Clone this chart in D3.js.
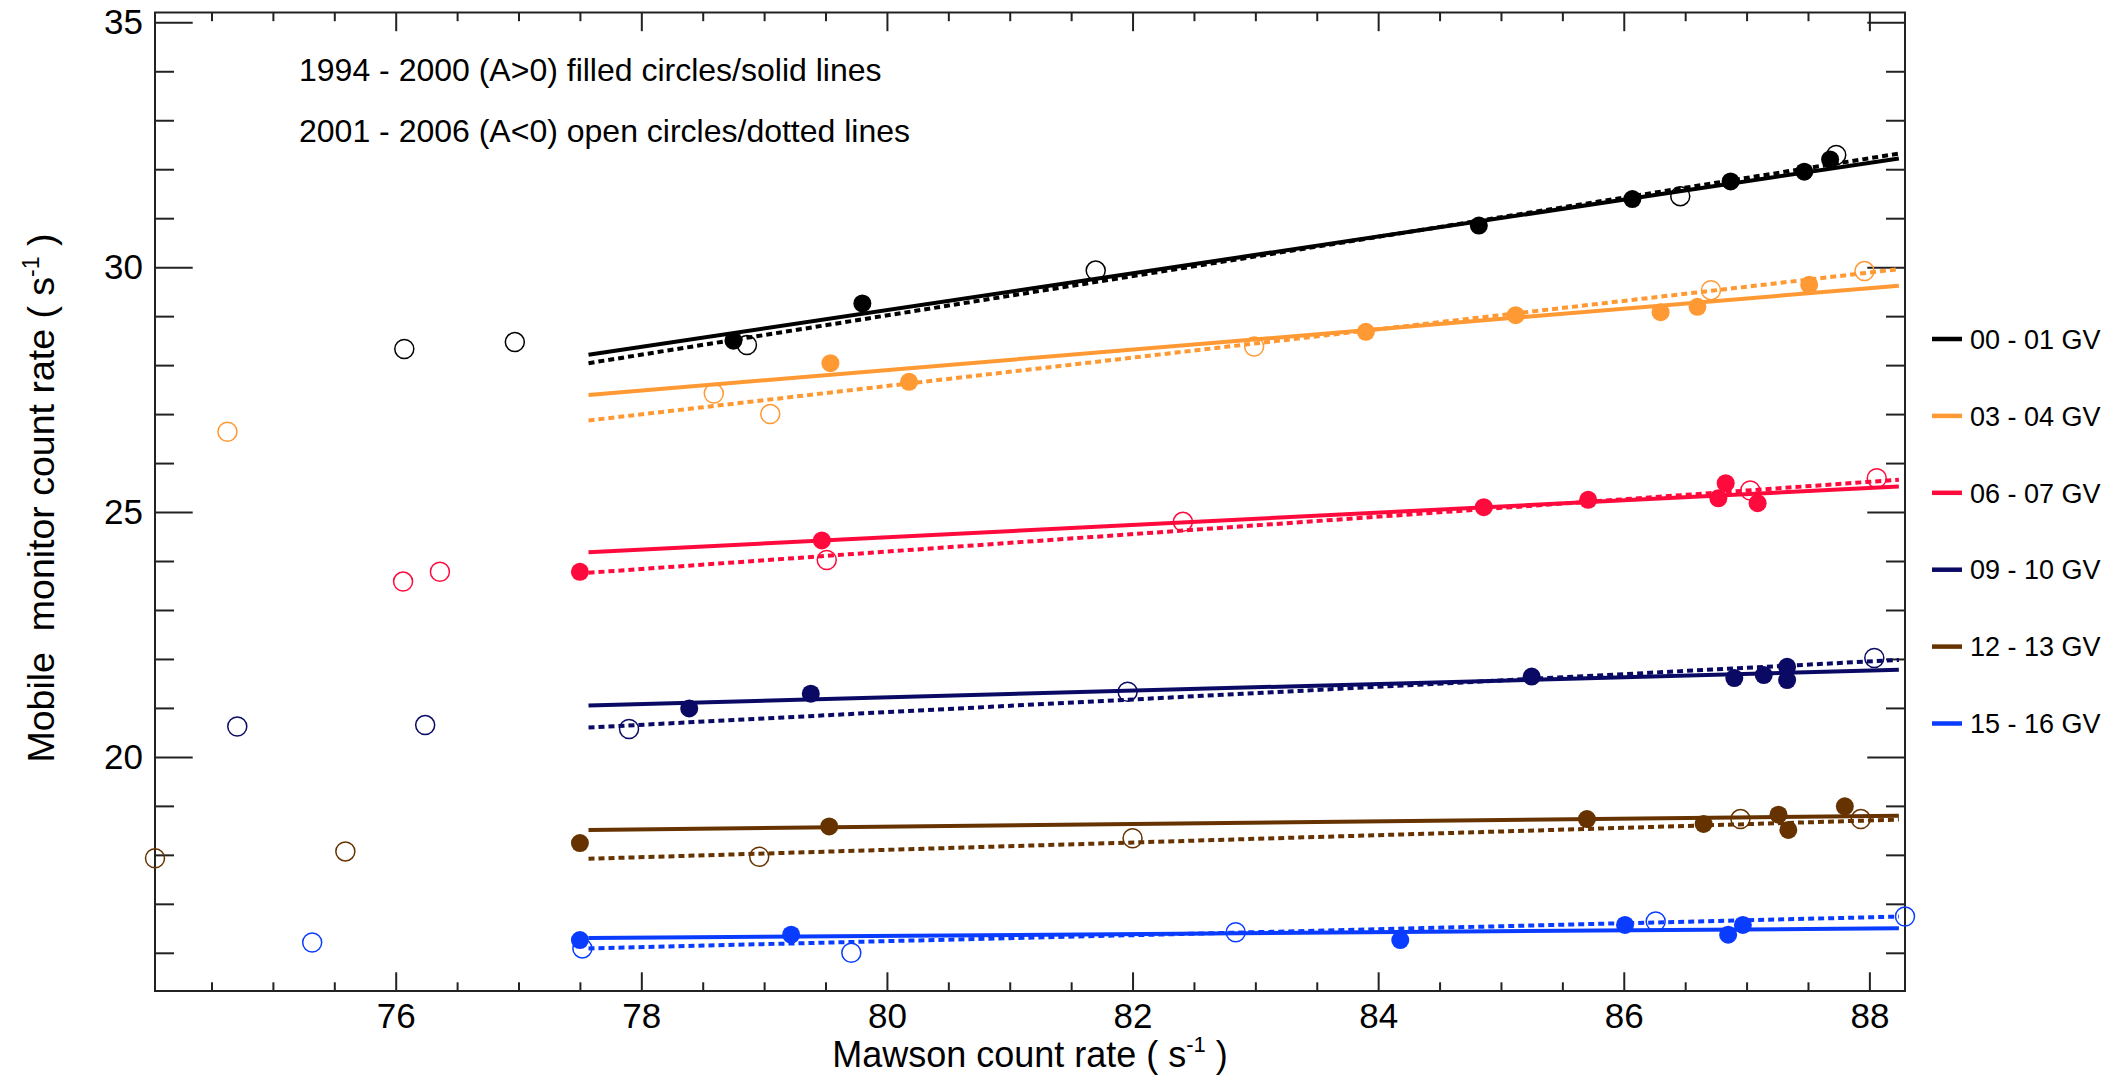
<!DOCTYPE html>
<html><head><meta charset="utf-8">
<script src="https://cdn.jsdelivr.net/npm/d3@7"></script>
<style>
html,body{margin:0;padding:0;background:#fff;}
svg{display:block;font-family:"Liberation Sans",Arial,Helvetica,sans-serif;}
</style></head><body>
<svg id="chart" width="2126" height="1081"></svg>
<script>
// ---------------- data ----------------
const seriesLabels = ["00 - 01 GV","03 - 04 GV","06 - 07 GV","09 - 10 GV","12 - 13 GV","15 - 16 GV"];
const seriesColors = ["#000000","#ff9933","#ff0a3c","#0a0a64","#663300","#0a3cff"];

// filled circles: 1994-2000 (A>0), [Mawson, Mobile]
const filled00 = [[78.75,28.50],[79.80,29.26],[84.82,30.85],[86.07,31.39],[86.87,31.75],[87.47,31.95],[87.68,32.20]];
const filled03 = [[79.54,28.04],[80.18,27.66],[83.90,28.68],[85.12,29.02],[86.30,29.08],[86.60,29.19],[87.51,29.64]];
const filled06 = [[77.50,23.78],[79.47,24.42],[84.86,25.10],[85.71,25.25],[86.77,25.28],[86.83,25.59],[87.09,25.18]];
const filled09 = [[78.39,20.99],[79.38,21.29],[85.25,21.64],[86.90,21.61],[87.14,21.67],[87.33,21.84],[87.33,21.57]];
const filled12 = [[77.50,18.24],[79.53,18.58],[85.70,18.73],[86.65,18.63],[87.26,18.82],[87.34,18.51],[87.80,18.99]];
const filled15 = [[77.50,16.26],[79.22,16.37],[84.18,16.26],[86.01,16.57],[86.85,16.37],[86.97,16.57]];

// open circles: 2001-2006 (A<0)
const open00 = [[76.07,28.33],[76.97,28.47],[78.86,28.41],[81.70,29.93],[86.46,31.45],[87.73,32.29]];
const open03 = [[74.63,26.64],[78.59,27.42],[79.05,27.00],[82.99,28.38],[86.71,29.53],[87.96,29.92]];
const open06 = [[76.06,23.58],[76.36,23.78],[79.51,24.02],[82.41,24.80],[87.03,25.44],[88.06,25.69]];
const open09 = [[74.71,20.62],[76.24,20.65],[77.90,20.57],[81.96,21.33],[88.04,22.02]];
const open12 = [[74.04,17.93],[75.59,18.07],[78.96,17.96],[82.00,18.34],[86.95,18.73],[87.93,18.73]];
const open15 = [[75.32,16.21],[77.52,16.09],[79.71,16.00],[82.84,16.42],[86.26,16.64],[88.29,16.74]];

// fitted lines: Mobile value at the two ends of fitX
const fitX = [77.57, 88.24];
const solidFit = [[28.21,32.22],[27.39,29.62],[24.18,25.52],[21.05,21.78],[18.51,18.80],[16.30,16.50]];
const dottedFit = [[28.04,32.32],[26.87,29.96],[23.76,25.66],[20.60,21.98],[17.92,18.72],[16.09,16.74]];

// axes
const xDomain = [74.04, 88.29];
const yDomain = [15.22, 35.2];
const xMajorTicks = [76,78,80,82,84,86,88];
const xMinorTicks = [74.5,75,75.5,76.5,77,77.5,78.5,79,79.5,80.5,81,81.5,82.5,83,83.5,84.5,85,85.5,86.5,87,87.5];
const yMajorTicks = [20,25,30,35];
const yMinorTicks = [16,17,18,19,21,22,23,24,26,27,28,29,31,32,33,34];

const noteLines = ["1994 - 2000 (A>0) filled circles/solid lines","2001 - 2006 (A<0) open circles/dotted lines"];

// ---------------- build ----------------
const filledSets = [filled00,filled03,filled06,filled09,filled12,filled15];
const openSets = [open00,open03,open06,open09,open12,open15];
const series = seriesLabels.map((label,i)=>({label,color:seriesColors[i],filled:filledSets[i],open:openSets[i],solid:solidFit[i],dotted:dottedFit[i]}));

const svg = d3.select("#chart");
const L=155, R=1905, T=12.5, B=991;
const x = d3.scaleLinear().domain(xDomain).range([L,R]);
const y = d3.scaleLinear().domain(yDomain).range([B,T]);
const axisColor = "#222";

function styleAxis(g, fs){
  g.select(".domain").remove();
  g.selectAll(".tick line").attr("stroke",axisColor).attr("stroke-width",2);
  g.attr("font-family",null).attr("font-size",fs);
  g.selectAll(".tick text").attr("fill","#000");
}

// bottom
svg.append("g").attr("transform",`translate(0,${B})`)
  .call(d3.axisBottom(x).tickValues(xMajorTicks).tickSize(-18.7).tickPadding(12).tickFormat(d3.format("d")))
  .call(g=>styleAxis(g,35));
svg.append("g").attr("transform",`translate(0,${B})`)
  .call(d3.axisBottom(x).tickValues(xMinorTicks).tickSize(-8.7).tickFormat(""))
  .call(g=>styleAxis(g,35));
// top
svg.append("g").attr("transform",`translate(0,${T})`)
  .call(d3.axisTop(x).tickValues(xMajorTicks).tickSize(-18.7).tickFormat(""))
  .call(g=>styleAxis(g,35));
svg.append("g").attr("transform",`translate(0,${T})`)
  .call(d3.axisTop(x).tickValues(xMinorTicks).tickSize(-8.7).tickFormat(""))
  .call(g=>styleAxis(g,35));
// left
svg.append("g").attr("transform",`translate(${L},0)`)
  .call(d3.axisLeft(y).tickValues(yMajorTicks).tickSize(-37.7).tickPadding(12).tickFormat(d3.format("d")))
  .call(g=>styleAxis(g,35));
svg.append("g").attr("transform",`translate(${L},0)`)
  .call(d3.axisLeft(y).tickValues(yMinorTicks).tickSize(-19).tickFormat(""))
  .call(g=>styleAxis(g,35));
// right
svg.append("g").attr("transform",`translate(${R},0)`)
  .call(d3.axisRight(y).tickValues(yMajorTicks).tickSize(-37.7).tickFormat(""))
  .call(g=>styleAxis(g,35));
svg.append("g").attr("transform",`translate(${R},0)`)
  .call(d3.axisRight(y).tickValues(yMinorTicks).tickSize(-19).tickFormat(""))
  .call(g=>styleAxis(g,35));

// frame
svg.append("rect").attr("x",L).attr("y",T).attr("width",R-L).attr("height",B-T)
  .attr("fill","none").attr("stroke",axisColor).attr("stroke-width",2);

// fit lines
const plot = svg.append("g");
series.forEach(s=>{
  plot.append("line")
    .attr("x1",x(fitX[0])).attr("x2",x(fitX[1]))
    .attr("y1",y(s.dotted[0])).attr("y2",y(s.dotted[1]))
    .attr("stroke",s.color).attr("stroke-width",4).attr("stroke-dasharray","6,4");
  plot.append("line")
    .attr("x1",x(fitX[0])).attr("x2",x(fitX[1]))
    .attr("y1",y(s.solid[0])).attr("y2",y(s.solid[1]))
    .attr("stroke",s.color).attr("stroke-width",4);
});
// open circles
series.forEach(s=>{
  plot.selectAll(null).data(s.open).enter().append("circle")
    .attr("cx",d=>x(d[0])).attr("cy",d=>y(d[1])).attr("r",9.5)
    .attr("fill","none").attr("stroke",s.color).attr("stroke-width",1.5);
});
// filled circles
series.forEach(s=>{
  plot.selectAll(null).data(s.filled).enter().append("circle")
    .attr("cx",d=>x(d[0])).attr("cy",d=>y(d[1])).attr("r",9)
    .attr("fill",s.color);
});

// notes
svg.append("text").attr("x",299).attr("y",81).attr("font-size",32).text(noteLines[0]);
svg.append("text").attr("x",299).attr("y",142).attr("font-size",32).text(noteLines[1]);

// legend
const legY0 = 339, legStep = 76.9;
const leg = svg.append("g");
series.forEach((s,i)=>{
  const yy = legY0 + i*legStep;
  leg.append("line").attr("x1",1932).attr("x2",1962).attr("y1",yy).attr("y2",yy)
    .attr("stroke",s.color).attr("stroke-width",4.5);
  leg.append("text").attr("x",1970).attr("y",yy).attr("dy","0.36em")
    .attr("font-size",27).text(s.label);
});

// axis titles
const xt = svg.append("text").attr("x",(L+R)/2).attr("y",1067).attr("text-anchor","middle").attr("font-size",36);
xt.append("tspan").text("Mawson count rate ( s");
xt.append("tspan").attr("font-size",22).attr("dy",-15).text("-1");
xt.append("tspan").attr("dy",15).text(" )");

const yt = svg.append("text").attr("transform","translate(54,498) rotate(-90)").attr("text-anchor","middle").attr("font-size",37.5);
yt.append("tspan").text("Mobile\u00a0\u00a0monitor count rate ( s");
yt.append("tspan").attr("font-size",23).attr("dy",-15).text("-1");
yt.append("tspan").attr("dy",15).text(" )");
</script>
</body></html>
